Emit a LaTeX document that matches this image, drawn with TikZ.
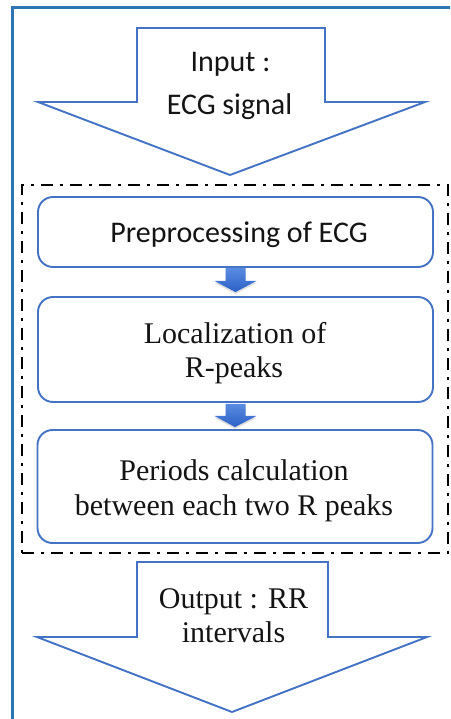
\documentclass[tikz,border=0pt]{standalone}
\usepackage{fontspec}
\setmainfont{Liberation Serif}
\newfontfamily\calib{Carlito}
\usetikzlibrary{calc,shadows}
\definecolor{framecol}{HTML}{2E75B6}
\definecolor{boxcol}{HTML}{4472C4}
\definecolor{arrowtop}{HTML}{5A8CE2}
\definecolor{arrowbot}{HTML}{2C60C6}
\definecolor{inkcol}{HTML}{141414}
\begin{document}
\begin{tikzpicture}[x=1pt,y=-1pt,
  stepbox/.style={draw=boxcol, line width=1.9pt, rounded corners=15pt,
    minimum width=395pt, inner sep=0pt},
  groupbox/.style={draw=black, line width=2.6pt,
    dash pattern=on 12pt off 7pt on 3pt off 7pt, inner sep=0pt},
  bigarrow/.style={draw=boxcol, line width=1.9pt, line join=miter, fill=white},
  smallarrow/.style={draw=none, top color=arrowtop, bottom color=arrowbot,
    drop shadow={shadow xshift=0pt, shadow yshift=-2pt, opacity=0.25}},
  sanstext/.style={anchor=base, inner sep=0pt, text=inkcol,
    font=\calib\fontsize{30}{36}\selectfont},
  seriftext/.style={anchor=base, inner sep=0pt, text=inkcol,
    font=\fontsize{30}{35}\selectfont}
]
\useasboundingbox (0,0) rectangle (450,719);
\fill[white] (0,0) rectangle (450,719);

% outer frame (left and top edges only, running off the page)
\begin{scope}
\clip (0,0) rectangle (450,719);
\draw[framecol, line width=3pt] (12,730) -- (12,8) -- (470,8);
\end{scope}

% input arrow
\draw[bigarrow] (137,28) -- (325,28) -- (325,102) -- (425,102) -- (230,175)
  -- (38,102) -- (137,102) -- cycle;
\node[sanstext] (inA) at (230.5,72) {Input :};
\node[sanstext] (inB) at (229.5,115) {ECG signal};

% processing stage
\node[groupbox, minimum width=426pt, minimum height=368pt] (group) at (235,369) {};

\node[stepbox, minimum height=70pt] (pre) at (235.5,232) {};
\node[stepbox, minimum height=105pt] (loc) at (235.5,349.5) {};
\node[stepbox, minimum height=113pt] (per) at (235,486.5) {};

\node[sanstext] (preA) at (239,242) {Preprocessing of ECG};
\node[seriftext] (locA) at (235,343) {Localization of};
\node[seriftext] (locB) at (234,377) {R-peaks};
\node[seriftext] (perA) at (234,480) {Periods calculation};
\node[seriftext] (perB) at (234,515) {between each two R peaks};

% block arrows between the steps
\path[smallarrow] ($(pre.south)+(-10,0)$) -- ($(pre.south)+(10,0)$)
  -- ($(pre.south)+(10,13)$) -- ($(pre.south)+(21,13)$)
  -- ($(loc.north)+(0,-4)$)
  -- ($(pre.south)+(-21,13)$) -- ($(pre.south)+(-10,13)$) -- cycle;
\path[smallarrow] ($(loc.south)+(-10,1)$) -- ($(loc.south)+(10,1)$)
  -- ($(loc.south)+(10,13)$) -- ($(loc.south)+(21,13)$)
  -- ($(per.north)+(0,-2)$)
  -- ($(loc.south)+(-21,13)$) -- ($(loc.south)+(-10,13)$) -- cycle;

% output arrow
\draw[bigarrow] (137,562) -- (328,562) -- (328,637) -- (427,637) -- (232,712)
  -- (37,637) -- (137,637) -- cycle;
\node[seriftext] (outA) at (233.5,608) {Output : RR};
\node[seriftext] (outB) at (233.5,642) {intervals};
\end{tikzpicture}
\end{document}
